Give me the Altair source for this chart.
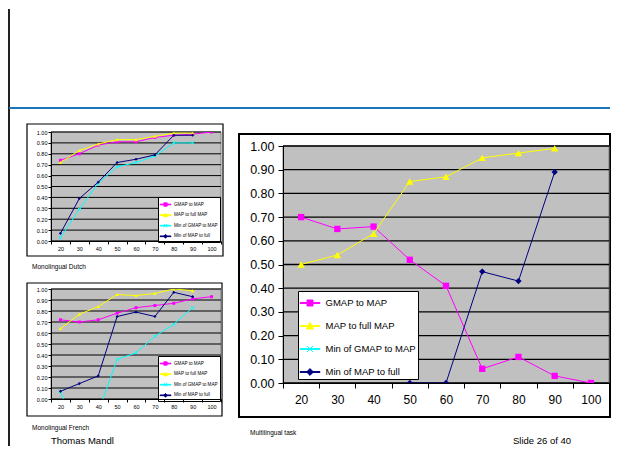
import altair as alt
import pandas as pd

FONT = "Liberation Sans"

cats = [20, 30, 40, 50, 60, 70, 80, 90, 100]
series_names = ["GMAP to MAP", "MAP to full MAP", "Min of GMAP to MAP", "Min of MAP to full"]
series_colors = ["#ff00ff", "#ffff00", "#00ffff", "#000080"]
y_ticks = [0.0, 0.1, 0.2, 0.3, 0.4, 0.5, 0.6, 0.7, 0.8, 0.9, 1.0]

dutch_gmap = [0.74, 0.80, 0.88, 0.91, 0.91, 0.95, 0.97, 0.98, 1.00]
dutch_mapfull = [0.72, 0.83, 0.89, 0.93, 0.93, 0.96, 0.99, 0.99, None]
dutch_min_gmap = [0.03, 0.29, 0.53, 0.68, 0.72, 0.78, 0.90, 0.90, None]
dutch_min_full = [0.07, 0.39, 0.54, 0.72, 0.75, 0.79, 0.97, 0.97, None]

french_gmap = [0.72, 0.70, 0.72, 0.78, 0.83, 0.85, 0.87, 0.91, 0.93]
french_mapfull = [0.64, 0.77, 0.84, 0.95, 0.94, 0.96, 1.00, 0.985, None]
french_min_gmap = [0.07, -0.40, -0.12, 0.36, 0.42, 0.57, 0.68, 0.83, None]
french_min_full = [0.07, 0.14, 0.21, 0.75, 0.79, 0.75, 0.97, 0.93, None]

multi_gmap = [0.70, 0.65, 0.66, 0.52, 0.41, 0.06, 0.11, 0.03, 0.00]
multi_mapfull = [0.50, 0.54, 0.63, 0.85, 0.87, 0.95, 0.97, 0.99, None]
multi_min_gmap = [None, None, None, None, None, None, None, None, None]
multi_min_full = [None, None, None, 0.00, 0.00, 0.47, 0.43, 0.89, None]

caption_dutch = "Monolingual Dutch"
caption_french = "Monolingual French"
caption_multi = "Multilingual task"
footer_left = "Thomas Mandl"
footer_right = "Slide 26 of 40"

point_shapes = ["square", "triangle-up", "M-1,-1L1,1M-1,1L1,-1", "diamond"]


def legend_paths(h):
    seg = "M-1,-%gH1V%gH-1Z" % (h, h)
    return [
        seg + "M-0.3,-0.3H0.3V0.3H-0.3Z",
        seg + "M0,-0.36L0.36,0.3H-0.36Z",
        seg + "M-0.3,-0.3L0.3,0.3M-0.3,0.3L0.3,-0.3",
        seg + "M0,-0.34L0.34,0L0,0.34L-0.34,0Z",
    ]


ONE = pd.DataFrame({"k": [0]})


def series_df(vals):
    rows = [{"x": c, "y": v} for c, v in zip(cats, vals) if v is not None]
    return pd.DataFrame(rows)


def box(x0, x1, y0, y1, sw):
    return alt.Chart(ONE).mark_rect(fill="white", stroke="black", strokeWidth=sw).encode(
        x=alt.value(x0), x2=alt.value(x1), y=alt.value(y0), y2=alt.value(y1))


def text(t, x, y, fs, align="left"):
    return alt.Chart(pd.DataFrame({"t": [t]})).mark_text(
        align=align, baseline="middle", font=FONT, fontSize=fs, color="black").encode(
        x=alt.value(x), y=alt.value(y), text="t:N")


def panel(cols, W, H, st, before, after):
    xaxis = alt.Axis(title=None, labelAngle=0, tickBand="extent", tickSize=st["tick"],
                     tickColor="black", domainColor="black", labelFont=FONT,
                     labelFontSize=st["xfs"], labelColor="black", labelPadding=st["xpad"],
                     grid=False, zindex=1, labelOverlap=False)
    xenc = alt.X("x:O",
                 scale=alt.Scale(type="band", domain=cats, paddingInner=0, paddingOuter=0),
                 axis=xaxis)
    if "yrange" in st:
        ysc = alt.Scale(domain=[0, 1], nice=False, zero=False, range=st["yrange"])
    else:
        ysc = alt.Scale(domain=[0, 1], nice=False, zero=False)
    yaxis = alt.Axis(title=None, values=y_ticks, format=".2f", grid=False,
                     tickSize=st["tick"], tickColor="black", domainColor="black",
                     labelFont=FONT, labelFontSize=st["yfs"], labelColor="black",
                     labelPadding=st["ypad"], zindex=1, labelOverlap=False)
    yenc = alt.Y("y:Q", scale=ysc, axis=yaxis)
    layers = list(before)
    layers.append(alt.Chart(ONE).mark_rect(fill="#c0c0c0", stroke="#808080", strokeWidth=1).encode(
        x=alt.value(0), x2=alt.value(W), y=alt.Y(datum=1.0, scale=ysc, axis=yaxis), y2=alt.datum(0.0)))
    layers.append(alt.Chart(pd.DataFrame({"y": y_ticks})).mark_rule(
        color="black", strokeWidth=st["gw"]).encode(y=yenc, x=alt.value(0), x2=alt.value(W)))
    for i, vals in enumerate(cols):
        df = series_df(vals)
        if len(df) == 0:
            continue
        c = series_colors[i]
        layers.append(alt.Chart(df).mark_line(color=c, strokeWidth=st["lw"], clip=True).encode(x=xenc, y=yenc))
        filled = i != 2
        layers.append(alt.Chart(df).mark_point(
            shape=point_shapes[i], filled=filled, color=c, size=st["msize"][i], opacity=1,
            strokeWidth=1, clip=True).encode(x=xenc, y=yenc))
    leg = alt.Legend(title=None, orient="none", legendX=st["lx"], legendY=st["ly"],
                     direction="vertical", fillColor="white", strokeColor="black",
                     padding=st["lpad"], rowPadding=st["lrow"], labelOffset=st["loff"],
                     labelFont=FONT, labelFontSize=st["lfs"], labelColor="black",
                     symbolSize=st["lsym"], symbolStrokeWidth=1, symbolOpacity=1, labelLimit=400)
    paths = legend_paths(st["segh"])
    layers.append(alt.Chart(pd.DataFrame({"series": series_names})).transform_filter("false").mark_point(
        filled=True, opacity=1, strokeWidth=1).encode(
        fill=alt.Fill("series:N", scale=alt.Scale(domain=series_names, range=series_colors), legend=leg),
        stroke=alt.Stroke("series:N", scale=alt.Scale(domain=series_names, range=series_colors), legend=leg),
        shape=alt.Shape("series:N", scale=alt.Scale(domain=series_names, range=paths), legend=leg)))
    layers += after
    return alt.layer(*layers).properties(width=W, height=H)


small_style = dict(tick=3, xfs=5.5, yfs=5.5, xpad=2, ypad=1, gw=1, lw=1,
                   msize=[9, 12, 9, 10], lpad=1.5, lrow=0.6, loff=2.5, lfs=4.6, lsym=121, segh=0.06)

dutch = panel([dutch_gmap, dutch_mapfull, dutch_min_gmap, dutch_min_full], 170, 109,
              dict(small_style, lx=107, ly=65),
              [box(-24, 172, -8, 124, 1.2)],
              [text(caption_dutch, -19, 135, 6.5)])

french = panel([french_gmap, french_mapfull, french_min_gmap, french_min_full], 170, 110,
               dict(small_style, lx=107, ly=67),
               [box(-24, 171, -6, 127, 1.2)],
               [text(caption_french, -19, 139, 6.5)])

big_style = dict(tick=5, xfs=12, yfs=12.5, xpad=6, ypad=4, gw=1.3, lw=1,
                 msize=[40, 55, 40, 40], lpad=1.5, lrow=7, loff=5, lfs=9.5, lsym=400, segh=0.04,
                 yrange=[251, 14], lx=15, ly=159)


def vrule(x, y0, y1, color, sw):
    return alt.Chart(ONE).mark_rule(color=color, strokeWidth=sw).encode(
        x=alt.value(x), y=alt.value(y0), y2=alt.value(y1))


def hrule(x0, x1, y, color, sw):
    return alt.Chart(ONE).mark_rule(color=color, strokeWidth=sw).encode(
        x=alt.value(x0), x2=alt.value(x1), y=alt.value(y))


big = panel([multi_gmap, multi_mapfull, multi_min_gmap, multi_min_full], 326, 251, big_style,
            [vrule(-274, -123, 314, "#222222", 2),
             hrule(-274, 327, -24, "#1c75b8", 2),
             box(-44, 327, 2, 285, 2)],
            [text(caption_multi, -33, 301, 6.5),
             text(footer_left, -232, 309, 9.5),
             text(footer_right, 230, 309, 9.5)])

res = dict(fill="independent", stroke="independent", shape="independent")

leftcol = alt.vconcat(dutch, french, spacing=48, bounds="flush").resolve_scale(**res).resolve_legend(**res)

chart = alt.hconcat(leftcol, big, spacing=232, bounds="flush").resolve_scale(**res).resolve_legend(**res)
chart = chart.properties(padding={"left": 0, "top": 0, "right": 0, "bottom": 0}).configure(
    background="white").configure_view(strokeWidth=0)

chart.save("out.html", embed_options={"renderer": "svg", "actions": False})
